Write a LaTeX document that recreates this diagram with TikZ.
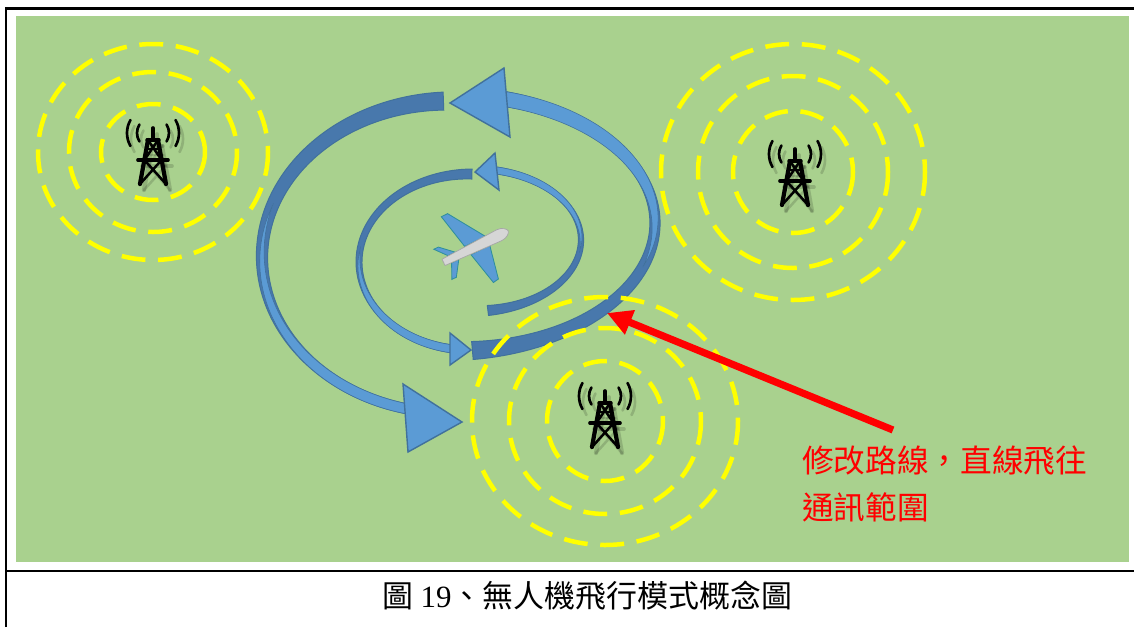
\documentclass[tikz,border=0pt]{standalone}
\usepackage{fontspec}
\setmainfont{Liberation Serif}
\newfontfamily\cjk{Noto Sans CJK TC}
\usetikzlibrary{arrows.meta}

\definecolor{grass}{HTML}{A9D18E}
\definecolor{ringyellow}{HTML}{FFFF00}
\definecolor{pathlight}{HTML}{5B9BD5}
\definecolor{pathdark}{HTML}{4878AC}
\definecolor{pathedge}{HTML}{41719C}
\definecolor{wingedge}{HTML}{2F8F9D}
\definecolor{hullgray}{HTML}{D6D6D6}

% curved band on an ellipse: style, cx, cy, a, b, start angle, end angle, widths
\newcommand{\band}[8]{%
	\filldraw[#1] plot[domain=#6:#7,variable=\ang,samples=70,smooth]
		({#2+(#4+hw((\ang-(#6))/((#7)-(#6)),#8))*cos(\ang)},{#3+(#5+hw((\ang-(#6))/((#7)-(#6)),#8))*sin(\ang)})
		-- plot[domain=#7:#6,variable=\ang,samples=70,smooth]
		({#2+(#4-hw((\ang-(#6))/((#7)-(#6)),#8))*cos(\ang)},{#3+(#5-hw((\ang-(#6))/((#7)-(#6)),#8))*sin(\ang)})
		-- cycle;}

\tikzset{
	declare function={hw(\sa,\wa,\wb,\wc)=0.5*(\wa*(1-\sa)^2+2*\wb*\sa*(1-\sa)+\wc*\sa^2);},
	towerparts/.pic={
		\draw[line width=2.6pt] (0,-29) -- (0,-17);
		\draw[line width=2.4pt] (-6,-17) -- (6,-17);
		\draw[line width=3pt] (-5,-17) -- (-13,27) (5,-17) -- (13,27);
		\draw[line width=1.8pt] (-5,-17) -- (8.6,3) (5,-17) -- (-8.6,3);
		\draw[line width=1.8pt] (-6.6,-8) -- (6.6,-8);
		\draw[line width=2.6pt] (-15,3) -- (15,3);
		\draw[line width=1.8pt] (-8.6,3) -- (13,27) (8.6,3) -- (-13,27);
		\draw[line width=1.9pt] (0,-24) ++(148:16) arc[start angle=148,end angle=212,radius=16];
		\draw[line width=1.9pt] (0,-24) ++(-32:16) arc[start angle=-32,end angle=32,radius=16];
		\draw[line width=1.9pt] (0,-24) ++(150:26) arc[start angle=150,end angle=210,radius=26];
		\draw[line width=1.9pt] (0,-24) ++(-30:26) arc[start angle=-30,end angle=30,radius=26];
	},
	tower/.pic={
		\pic[black,opacity=.15,line cap=round] at (4,6) {towerparts};
		\pic[black,line cap=round] {towerparts};
	}
}

\begin{document}
\begin{tikzpicture}[x=0.025cm,y=-0.025cm,
	frame/.style={line width=2pt},
	ring/.style={draw=ringyellow,line width=3.2pt,dash pattern=on 17pt off 9pt},
	darkband/.style={fill=pathdark,draw=pathedge,line width=.7pt},
	lightband/.style={fill=pathlight,draw=pathedge,line width=.4pt},
	head/.style={fill=pathlight,draw=pathedge,line width=1pt},
	wing/.style={fill=pathlight,draw=wingedge,line width=.6pt},
	hull/.style={fill=hullgray,draw=gray!70,line width=.5pt},
	redarrow/.style={draw=red,line width=0.18cm,-{Triangle[length=0.62cm,width=0.62cm]}},
	note/.style={text=red,font=\cjk\fontsize{22.5pt}{33pt}\selectfont,align=left,inner sep=0},
	caption/.style={font=\fontsize{22pt}{26pt}\selectfont,inner sep=0}]
	\useasboundingbox (0,0) rectangle (1134,627);

	\fill[grass] (16,16) rectangle (1129,562);
	\draw[frame] (6,627) -- (6,8.5) -- (1134,8.5);
	\draw[frame] (6,571) -- (1134,571);

	% flight loops
	\band{darkband}{450}{257}{188}{156}{268}{103}{18,9,10}
	\band{lightband}{450}{257}{188}{156}{200}{103}{0,12,10}
	\filldraw[head] (403,384) -- (462,422) -- (408,452) -- cycle;
	\band{darkband}{455}{223}{200}{128}{85}{-75.5}{18,4,15}
	\band{lightband}{455}{223}{200}{128}{20}{-75.5}{0,16,15}
	\filldraw[head] (504,68) -- (450,103) -- (510,137) -- cycle;
	\band{darkband}{470}{262}{111}{88}{271}{100}{10,3,8}
	\band{lightband}{470}{262}{111}{88}{190}{100}{0,9,8}
	\filldraw[head] (450,333) -- (471,350) -- (450,365) -- cycle;
	\band{darkband}{475}{240}{106}{71}{83}{-79}{10,2,7}
	\band{lightband}{475}{240}{106}{71}{10}{-79}{0,8,7}
	\filldraw[head] (495,153) -- (475,172) -- (499,190) -- cycle;

	% drone
	\begin{scope}[shift={(475,247)},rotate=26]
		\filldraw[wing] (-9,-5) -- (-17,-42) -- (-10,-42) -- (14,-5) -- cycle;
		\filldraw[wing] (-7,5) -- (1,40) -- (7,39) -- (14,5) -- cycle;
		\filldraw[wing] (-28,-4) -- (-38,-16) -- (-33,-16) -- (-20,-4) -- cycle;
		\filldraw[wing] (-28,4) -- (-35,19) -- (-30,19) -- (-20,4) -- cycle;
		\filldraw[hull] (-35,-3.5) -- (27,-6) .. controls (33,-6) and (37,-2) .. (37,0)
			.. controls (37,2) and (33,6) .. (27,6) -- (-35,3.5) -- cycle;
	\end{scope}

	% signal ranges
	\foreach \rx/\ry in {52/48,84/80,115/108}
		\draw[ring] (153,152) ellipse [x radius=\rx,y radius=\ry];
	\foreach \rx/\ry in {60/61,95/96,132/128}
		\draw[ring] (793,172) ellipse [x radius=\rx,y radius=\ry];
	\foreach \rx/\ry in {58/60,96/93,133/124}
		\draw[ring] (605,421) ellipse [x radius=\rx,y radius=\ry];

	\pic (west) at (153,157) {tower};
	\pic (east) at (795,178) {tower};
	\pic (south) at (605,420) {tower};

	\node[note,anchor=north west] (note) at (802,446) {修改路線，直線飛往\\通訊範圍};
	\coordinate (tail) at (893,430);
	\coordinate (edge) at (607,313);
	\draw[redarrow] (tail) -- (edge);

	\node[caption] (caption) at (587,596) {{\cjk 圖} 19{\cjk 、無人機飛行模式概念圖}};
\end{tikzpicture}
\end{document}
